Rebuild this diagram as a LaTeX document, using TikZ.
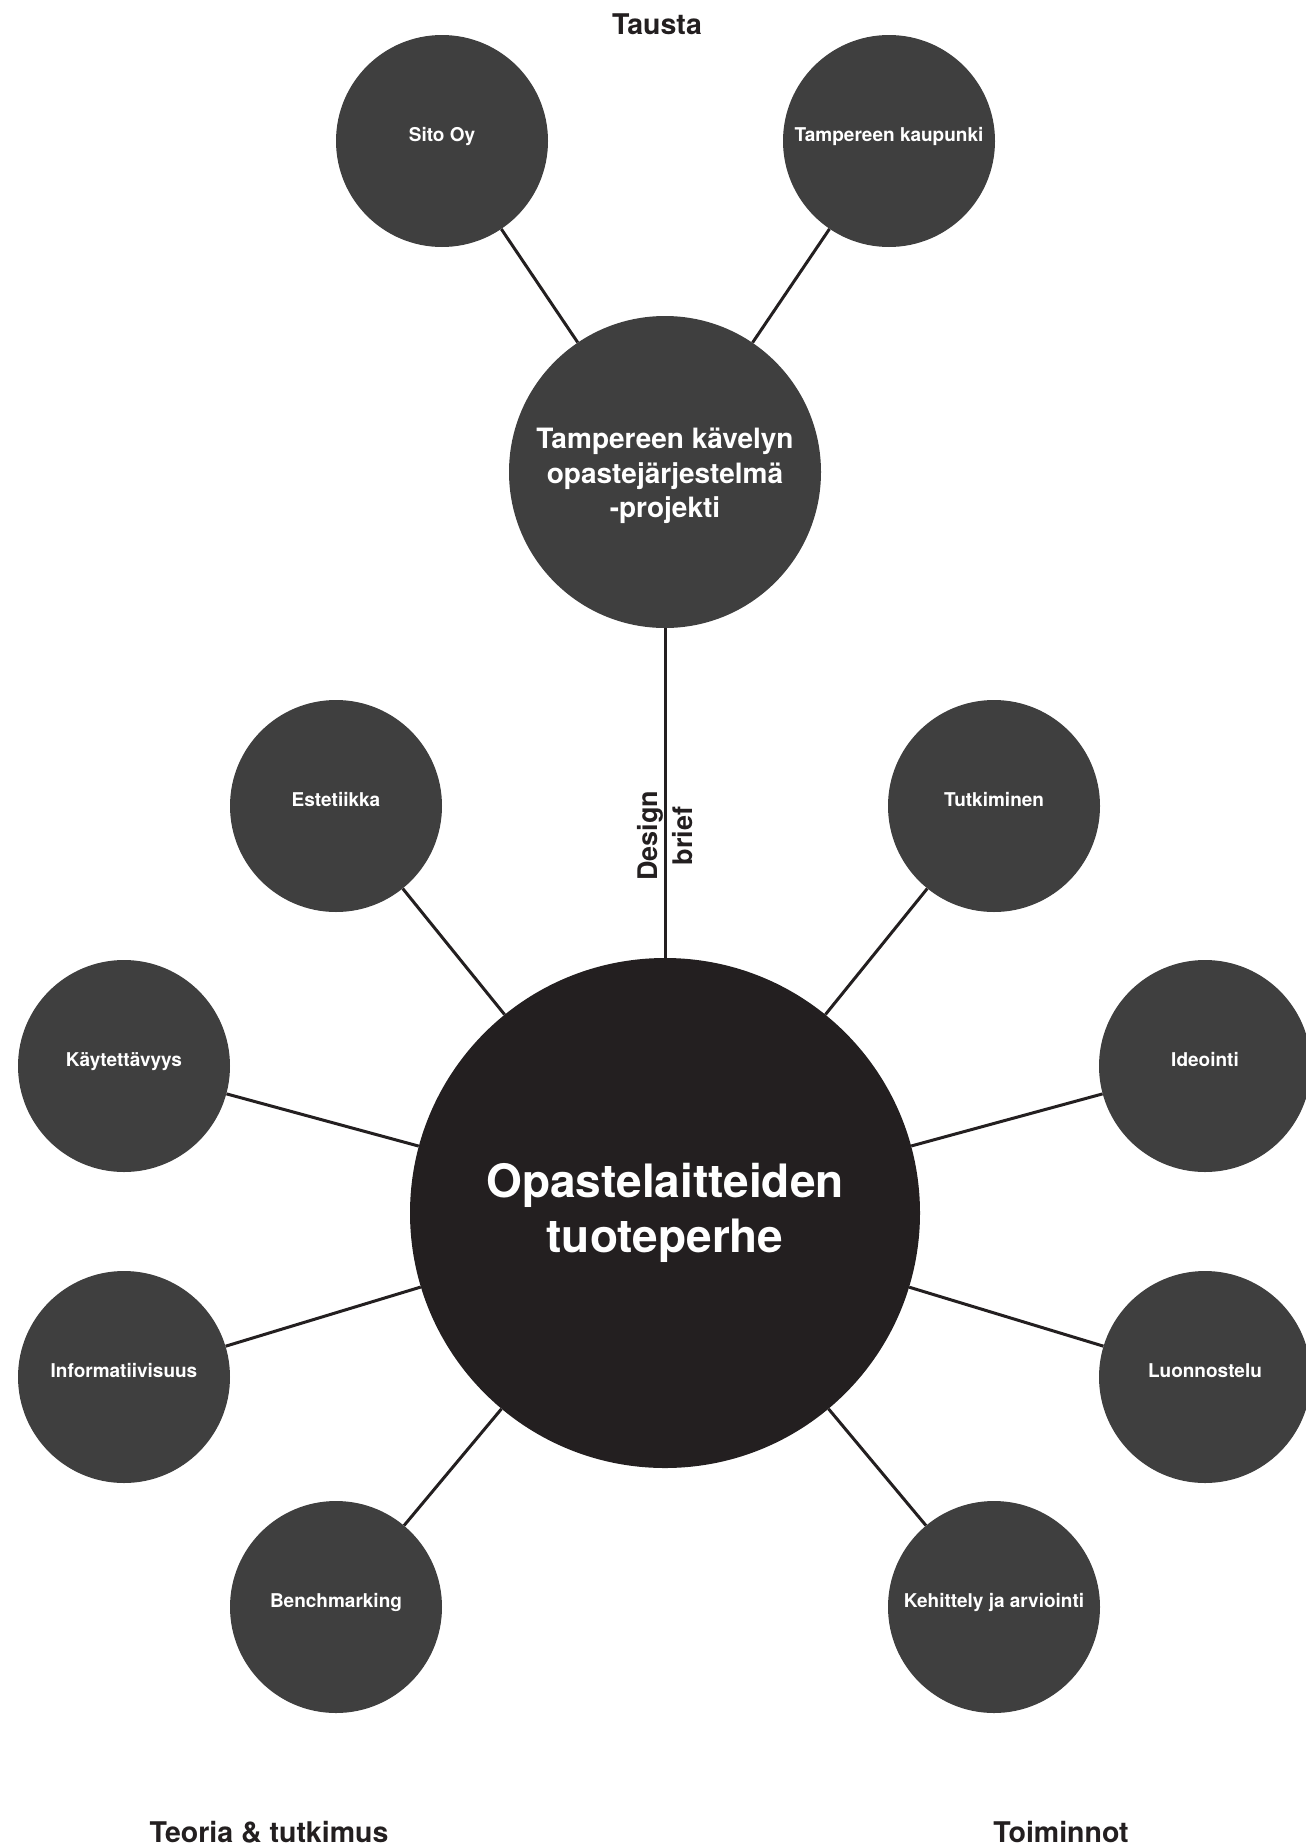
\documentclass[tikz,border=0pt]{standalone}
\usepackage{fontspec}
\setmainfont{TeX Gyre Heros}
\definecolor{ink}{HTML}{231F20}
\definecolor{bubble}{HTML}{3F3F3F}
\tikzset{
  link/.style={line width=3pt, draw=ink},
  smallbub/.style={circle, fill=bubble, minimum size=212pt, inner sep=0pt, text=white,
    font=\fontsize{19}{23}\selectfont\bfseries, text height=0pt, text depth=0pt},
  projbub/.style={circle, fill=bubble, minimum size=312pt, inner sep=0pt},
  projtext/.style={text=white, align=center, inner sep=0pt,
    font=\fontsize{28}{34.5}\selectfont\bfseries},
  mainbub/.style={circle, fill=ink, minimum size=510pt, inner sep=0pt, text=white,
    align=center, font=\fontsize{46}{55}\selectfont\bfseries},
  heading/.style={anchor=base, text=ink, font=\fontsize{28.5}{32}\selectfont\bfseries, inner sep=0pt},
  linklabel/.style={rotate=90, align=center, text=ink, inner sep=0pt,
    font=\fontsize{27}{35}\selectfont\bfseries}
}
\begin{document}
\begin{tikzpicture}[x=1pt, y=-1pt]
\useasboundingbox (0,0) rectangle (1306,1847);
% headings
\node[heading] (tausta) at (657,34) {Tausta};
\node[heading] (teoria) at (269,1842) {Teoria \& tutkimus};
\node[heading] (toiminnot) at (1061,1842) {Toiminnot};
% top group
\node[smallbub] (sito) at (442,141) {Sito Oy};
\node[smallbub] (tkaup) at (889,141) {Tampereen kaupunki};
\node[projbub] (proj) at (665,472) {};
\node[projtext] (projlabel) at (665,476) {Tampereen kävelyn\\opastejärjestelmä\\-projekti};
% main
\node[mainbub] (main) at (665,1213) {Opastelaitteiden\\tuoteperhe};
% left
\node[smallbub] (este) at (336,806) {Estetiikka};
\node[smallbub] (kayt) at (124,1066) {Käytettävyys};
\node[smallbub] (info) at (124,1377) {Informatiivisuus};
\node[smallbub] (bench) at (336,1607) {Benchmarking};
% right
\node[smallbub] (tutk) at (994,806) {Tutkiminen};
\node[smallbub] (ideo) at (1205,1066) {Ideointi};
\node[smallbub] (luon) at (1205,1377) {Luonnostelu};
\node[smallbub] (kehi) at (994,1607) {Kehittely ja arviointi};
% connectors
\draw[link] (sito) -- (proj);
\draw[link] (tkaup) -- (proj);
\draw[link] (proj) -- node[linklabel, pos=0.63] (brief) {Design\\brief} (main);
\draw[link] (este) -- (main);
\draw[link] (kayt) -- (main);
\draw[link] (info) -- (main);
\draw[link] (bench) -- (main);
\draw[link] (tutk) -- (main);
\draw[link] (ideo) -- (main);
\draw[link] (luon) -- (main);
\draw[link] (kehi) -- (main);
\end{tikzpicture}
\end{document}
